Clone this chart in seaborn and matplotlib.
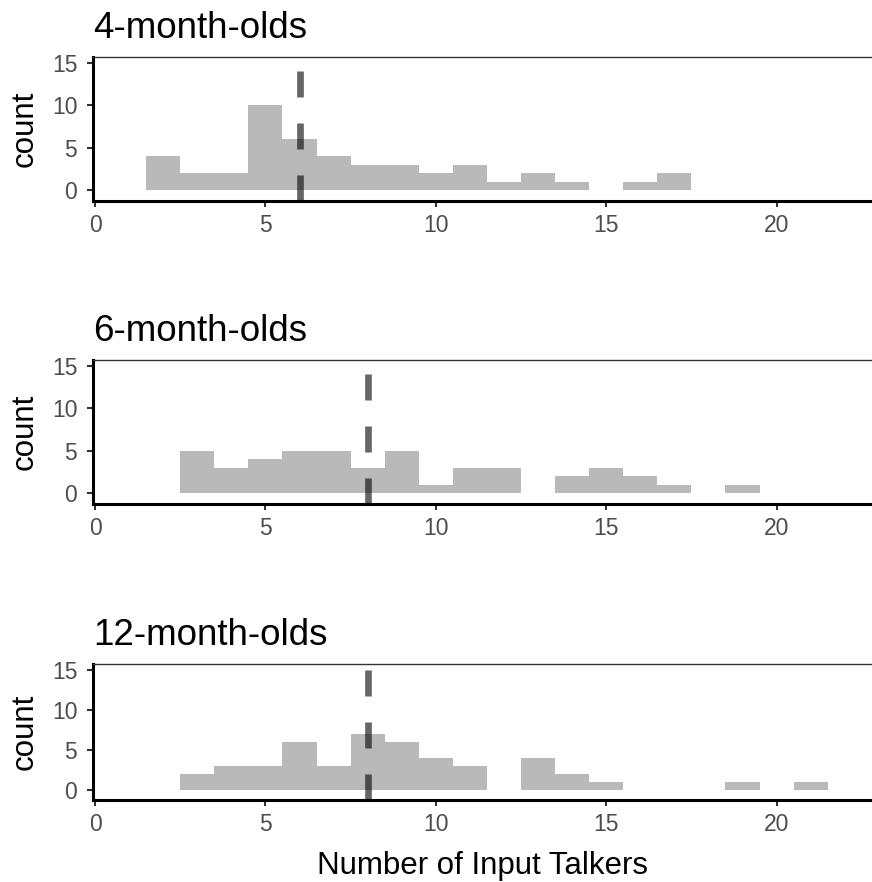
import numpy as np
import pandas as pd
import seaborn as sns
import matplotlib
matplotlib.use("Agg")
import matplotlib.pyplot as plt

# ---- data ----
groups = ["4-month-olds", "6-month-olds", "12-month-olds"]

talkers_4m = [2, 3, 4, 5, 6, 7, 8, 9, 10, 11, 12, 13, 14, 16, 17]
counts_4m = [4, 2, 2, 10, 6, 4, 3, 3, 2, 3, 1, 2, 1, 1, 2]

talkers_6m = [3, 4, 5, 6, 7, 8, 9, 10, 11, 12, 14, 15, 16, 17, 19]
counts_6m = [5, 3, 4, 5, 5, 3, 5, 1, 3, 3, 2, 3, 2, 1, 1]

talkers_12m = [3, 4, 5, 6, 7, 8, 9, 10, 11, 13, 14, 15, 19, 21]
counts_12m = [2, 3, 3, 6, 3, 7, 6, 4, 3, 4, 2, 1, 1, 1]

medians = [6, 8, 8]

x_ticks = [0, 5, 10, 15, 20]
y_ticks = [0, 5, 10, 15]

series = [(talkers_4m, counts_4m), (talkers_6m, counts_6m), (talkers_12m, counts_12m)]

sns.set_theme(style="white")
plt.rcParams["font.family"] = ["Liberation Sans", "DejaVu Sans"]

fig = plt.figure(figsize=(8.72, 8.82), dpi=100)
W, H = 872, 882
# panel boxes in pixels: (top, bottom)
boxes = [(57, 201), (360, 504), (664, 800)]
left_px = 93

for i, (grp, (tx, cn), med, (top, bot)) in enumerate(zip(groups, series, medians, boxes)):
    ax = fig.add_axes([left_px / W, 1 - bot / H, 1 - left_px / W, (bot - top) / H])
    df = pd.DataFrame({"talkers": tx, "n": cn})
    sns.histplot(data=df, x="talkers", weights="n", discrete=True, ax=ax,
                 color="#B9B9B9", alpha=1.0, linewidth=0, edgecolor="none")
    ax.axvline(med, color="black", alpha=0.6, lw=4.8, dashes=(3.9, 3.9))
    ax.set_xlim(-0.06, 22.8)
    ax.set_ylim(-1.24, 15.7)
    ax.set_xticks(x_ticks)
    ax.set_yticks(y_ticks)
    ax.set_ylabel("count", fontsize=22.5, color="black")
    ax.yaxis.set_label_coords(-(93 - 40) / 779, 0.5)
    if i == 2:
        ax.set_xlabel("Number of Input Talkers", fontsize=22.5, color="black")
        ax.xaxis.set_label_coords(0.5, -(851 - bot) / (bot - top))
    else:
        ax.set_xlabel("")
    ax.set_title(grp, loc="left", fontsize=26.5, pad=14, color="black")
    for s in ["left", "bottom"]:
        ax.spines[s].set_visible(True)
        ax.spines[s].set_color("black")
        ax.spines[s].set_linewidth(2.2)
    ax.spines["top"].set_visible(True)
    ax.spines["top"].set_color("#333333")
    ax.spines["top"].set_linewidth(1.0)
    ax.spines["right"].set_visible(False)
    ax.tick_params(axis="y", which="major", length=4.3, width=1.5, color="#333333",
                   labelsize=16.5, labelcolor="#4D4D4D", pad=7, left=True)
    ax.tick_params(axis="x", which="major", length=4.3, width=1.5, color="#333333",
                   labelsize=16.5, labelcolor="#4D4D4D", pad=5, bottom=True)
    ax.grid(False)

fig.savefig("out.png", dpi=100)
